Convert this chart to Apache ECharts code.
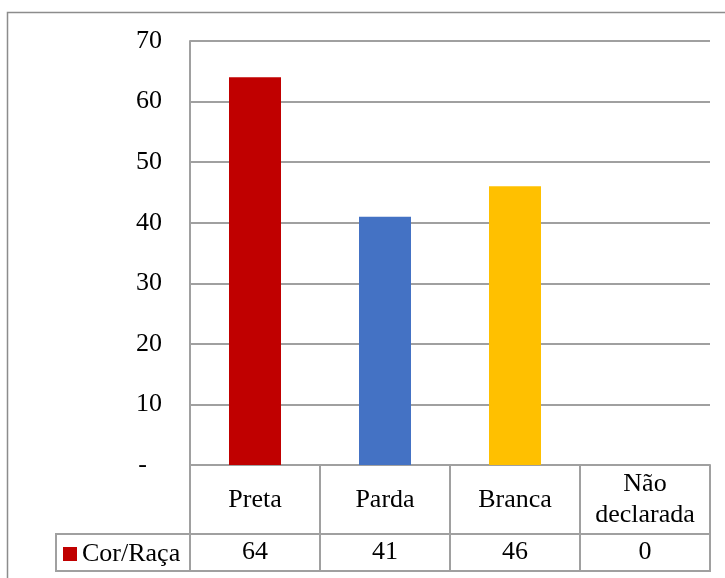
<!DOCTYPE html>
<html>
<head>
<meta charset="utf-8">
<script src="https://cdn.jsdelivr.net/npm/echarts@6/dist/echarts.min.js"></script>
<style>
  html, body { margin: 0; padding: 0; background: #fff; }
  #chart { width: 725px; height: 578px; }
</style>
</head>
<body>
<div id="chart"></div>
<script>
// Respondents by colour/race
const categories = ['Preta', 'Parda', 'Branca', 'Não\ndeclarada'];
const values = [64, 41, 46, 0];
const barColors = ['#C00000', '#4472C4', '#FFC000', '#A5A5A5'];
const seriesName = 'Cor/Raça';
const yTicks = { min: 0, max: 70, step: 10 };

const FONT = '"Liberation Serif", "Times New Roman", serif';
const FONT_SIZE = 26;
const GRID_GRAY = '#A0A0A0';

const chart = echarts.init(document.getElementById('chart'), null, { renderer: 'canvas' });

chart.setOption({
  animation: false,
  backgroundColor: '#fff',
  grid: { left: 190, right: 15, top: 41, bottom: 113, containLabel: false },
  legend: {
    data: [seriesName],
    left: 58,
    top: 536,
    itemWidth: 14,
    itemHeight: 14,
    itemGap: 6,
    icon: 'rect',
    textStyle: { fontFamily: FONT, fontSize: FONT_SIZE, color: '#000' }
  },
  xAxis: [
    {
      type: 'category',
      data: categories,
      position: 'bottom',
      axisLine: { show: true, lineStyle: { color: GRID_GRAY, width: 2 } },
      axisTick: { show: true, alignWithLabel: false, interval: 0, length: 106, lineStyle: { color: GRID_GRAY, width: 2 } },
      axisLabel: {
        interval: 0, margin: 35, verticalAlign: 'middle',
        fontFamily: FONT, fontSize: FONT_SIZE, lineHeight: 31, color: '#000'
      },
      splitLine: { show: false }
    },
    {
      // value row of the data table
      type: 'category',
      data: categories,
      position: 'bottom',
      axisLine: { show: false },
      axisTick: { show: false },
      axisLabel: {
        interval: 0, margin: 87, verticalAlign: 'middle',
        fontFamily: FONT, fontSize: FONT_SIZE, color: '#000',
        formatter: (v, i) => String(values[i])
      },
      splitLine: { show: false }
    }
  ],
  yAxis: {
    type: 'value',
    min: yTicks.min,
    max: yTicks.max,
    interval: yTicks.step,
    axisLine: { show: true, lineStyle: { color: GRID_GRAY, width: 2 } },
    axisTick: { show: false },
    splitLine: { show: true, lineStyle: { color: GRID_GRAY, width: 2 } },
    axisLabel: {
      margin: 28,
      fontFamily: FONT, fontSize: FONT_SIZE, color: '#000',
      formatter: v => (v === 0 ? '{d|-}' : String(v)),
      rich: { d: { fontFamily: FONT, fontSize: FONT_SIZE, color: '#000', padding: [0, 15, 0, 0] } }
    }
  },
  series: [
    {
      name: seriesName,
      type: 'bar',
      xAxisIndex: 0,
      barWidth: 52,
      itemStyle: { color: barColors[0] },
      data: values.map((v, i) => ({ value: v, itemStyle: { color: barColors[i] } }))
    }
  ],
  graphic: [
    // outer chart frame
    { type: 'rect', shape: { x: 7.5, y: 12.5, width: 800, height: 700 }, style: { fill: 'none', stroke: '#8C8C8C', lineWidth: 1.5 }, silent: true },
    // data-table rows
    { type: 'line', shape: { x1: 55, y1: 534, x2: 711, y2: 534 }, style: { stroke: GRID_GRAY, lineWidth: 2 }, silent: true },
    { type: 'line', shape: { x1: 55, y1: 571, x2: 711, y2: 571 }, style: { stroke: GRID_GRAY, lineWidth: 2 }, silent: true },
    { type: 'line', shape: { x1: 56, y1: 533, x2: 56, y2: 572 }, style: { stroke: GRID_GRAY, lineWidth: 2 }, silent: true }
  ]
});
</script>
</body>
</html>
